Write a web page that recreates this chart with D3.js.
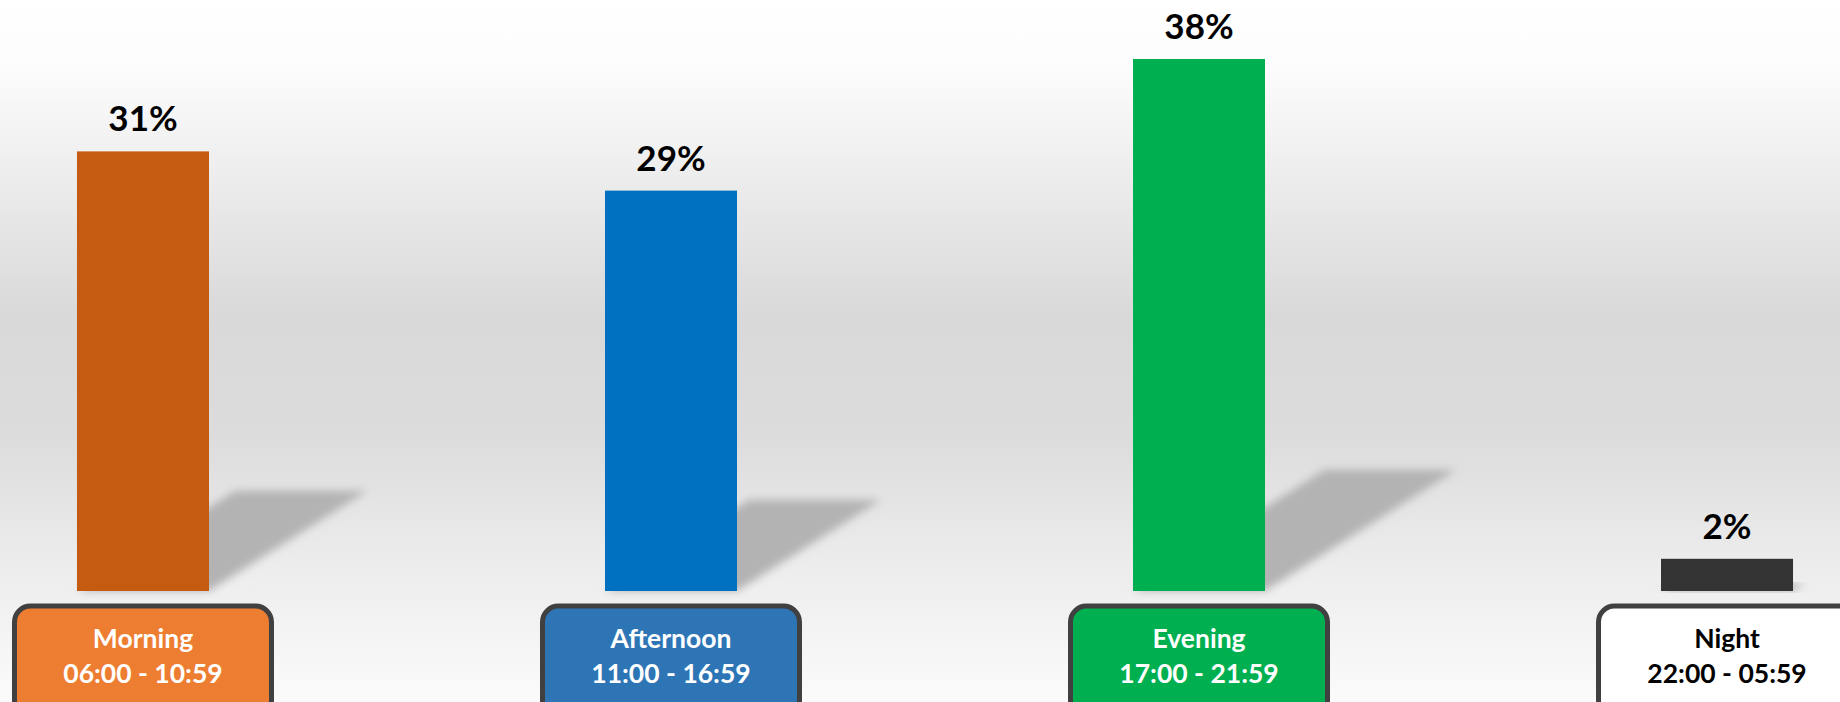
<!DOCTYPE html>
<html><head><meta charset="utf-8">
<script src="https://cdn.jsdelivr.net/npm/d3@7"></script>
<style>html,body{margin:0;padding:0;overflow:hidden;background:#fff}</style>
</head><body>
<svg id="c" width="1840" height="702"></svg>
<script>
const categories = ["Morning", "Afternoon", "Evening", "Night"];
const timeRanges = ["06:00 - 10:59", "11:00 - 16:59", "17:00 - 21:59", "22:00 - 05:59"];
const values = [31.4, 28.6, 38.0, 2.3];
const valueLabels = ["31%", "29%", "38%", "2%"];
const barColors = ["#C55A11", "#0070C0", "#00B050", "#333333"];
const boxColors = ["#ED7D31", "#2E75B6", "#00B050", "#FFFFFF"];
const boxTextColors = ["#FFFFFF", "#FFFFFF", "#FFFFFF", "#000000"];

(function(){
const W = 1840, H = 702;
const svg = d3.select("#c");
const defs = svg.append("defs");
const grad = defs.append("linearGradient").attr("id","bg").attr("x1",0).attr("y1",0).attr("x2",0).attr("y2",1);
[[0,"#ffffff"],[0.1,"#fcfcfc"],[0.22,"#f0f0f0"],[0.45,"#d9d9d9"],[0.62,"#dcdcdc"],[0.8,"#ececec"],[1,"#fbfbfb"]]
  .forEach(([o,c])=>grad.append("stop").attr("offset",o).attr("stop-color",c));
svg.append("rect").attr("width",W).attr("height",H).attr("fill","url(#bg)");
defs.append("filter").attr("id","blur").attr("x","-20%").attr("y","-20%").attr("width","140%").attr("height","140%")
  .append("feGaussianBlur").attr("stdDeviation",4.5);

const x = d3.scaleBand().domain(categories).range([0,1870]).paddingInner(0.75).paddingOuter(0.1458);
const y = d3.scaleLinear().domain([0,40]).range([591,31]);
const base = y(0);
const font = "Lato, 'Open Sans', sans-serif";

const g = svg.append("g");
g.selectAll(".shadow").data(categories).join("path")
  .attr("fill","#b3b3b3").attr("filter","url(#blur)")
  .attr("d",(d,i)=>{
    const x0 = x(d), x1 = x(d)+x.bandwidth();
    const h = base - y(values[i]);
    const dx = h*0.36, sh = h*0.228;
    return `M${x0},${base}L${x1},${base}L${x1+dx},${base-sh}L${x0+dx},${base-sh}Z`;
  });
g.selectAll(".bar").data(categories).join("rect")
  .attr("x",d=>x(d)).attr("width",x.bandwidth())
  .attr("y",(d,i)=>y(values[i])).attr("height",(d,i)=>base-y(values[i]))
  .attr("fill",(d,i)=>barColors[i]);
g.selectAll(".vl").data(categories).join("text")
  .attr("x",d=>x(d)+x.bandwidth()/2).attr("y",(d,i)=>y(values[i])-20)
  .attr("text-anchor","middle").attr("font-family",font).attr("font-weight","bold")
  .attr("font-size",35).attr("fill","#000").text((d,i)=>valueLabels[i]);
const bw = 257, bh = 110, boxTop = 606;
const box = g.selectAll(".box").data(categories).join("g")
  .attr("transform",d=>`translate(${x(d)+x.bandwidth()/2},${boxTop})`);
box.append("rect").attr("x",-bw/2).attr("y",0).attr("width",bw).attr("height",bh)
  .attr("rx",16).attr("ry",16).attr("fill",(d,i)=>boxColors[i])
  .attr("stroke","#404040").attr("stroke-width",5);
box.append("text").attr("y",42).attr("text-anchor","middle").attr("font-family",font)
  .attr("font-weight","bold").attr("font-size",26.5).attr("fill",(d,i)=>boxTextColors[i]).text(d=>d);
box.append("text").attr("y",77).attr("text-anchor","middle").attr("font-family",font)
  .attr("font-weight","bold").attr("font-size",26.5).attr("fill",(d,i)=>boxTextColors[i]).text((d,i)=>timeRanges[i]);
})();
</script>
</body></html>
